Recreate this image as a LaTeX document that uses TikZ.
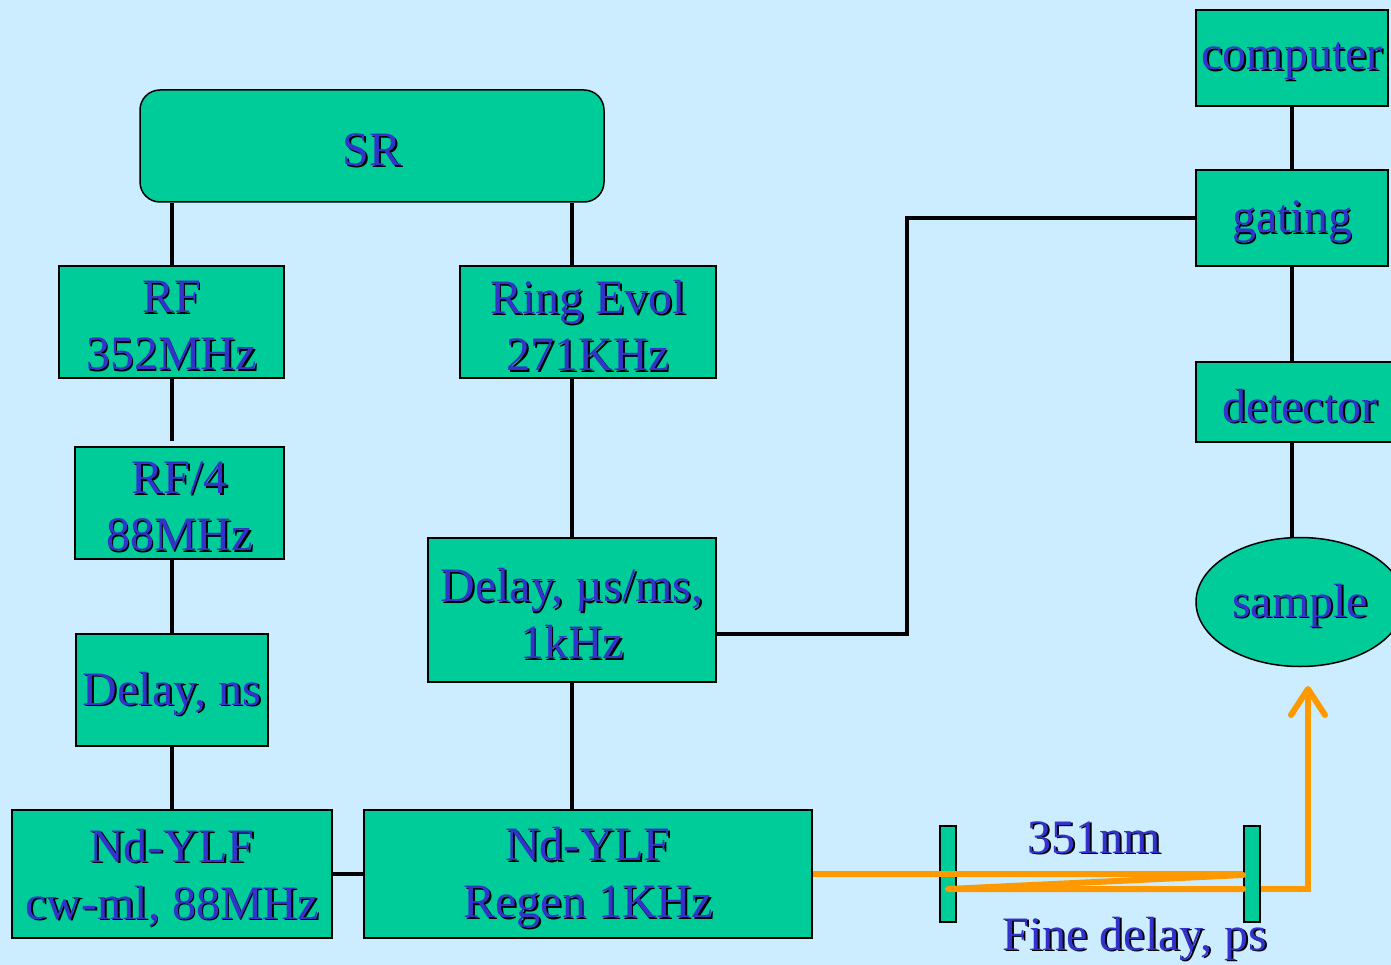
\documentclass[tikz,border=0pt]{standalone}
\usepackage{fontspec}
\setmainfont{Liberation Serif}
\usetikzlibrary{shapes.geometric,arrows.meta}
\definecolor{bg}{RGB}{204,236,255}
\definecolor{boxg}{RGB}{0,204,153}
\definecolor{txt}{RGB}{51,51,204}
\definecolor{beamc}{RGB}{255,153,0}
\newcommand\shl[1]{\leavevmode\rlap{\kern1.8pt\raisebox{-1.8pt}{\color{black}#1}}{\color{txt}#1}}
\newcommand\shd[1]{\raisebox{-4.5pt}[\height][\depth]{\shl{#1}}}
\begin{document}
\begin{tikzpicture}[x=1pt,y=-1pt,
  blk/.style={draw=black, line width=1.5pt, fill=boxg, inner sep=0pt, align=center, font=\fontsize{48}{57}\selectfont},
  wire/.style={line width=4pt, draw=black},
  beam/.style={line width=6pt, draw=beamc},
  lbl/.style={font=\fontsize{48}{57}\selectfont, inner sep=0pt, anchor=base}]
\clip (0,0) rectangle (1391,965);
\fill[bg] (0,0) rectangle (1391,965);
% left / middle blocks
\node[blk, rounded corners=20pt, minimum width=464pt, minimum height=112pt] (sr) at (372,146) {\shd{SR}};
\node[blk, minimum width=225pt, minimum height=112pt] (rf) at (171.5,322) {\shd{RF}\\\shd{352MHz}};
\node[blk, minimum width=256pt, minimum height=112pt] (ring) at (588,322) {\shd{Ring Evol}\\\shd{271KHz}};
\node[blk, minimum width=209pt, minimum height=112pt] (rf4) at (179.5,503) {\shd{RF/4}\\\shd{88MHz}};
\node[blk, minimum width=192pt, minimum height=112pt] (dns) at (172,690) {\shd{Delay, ns}};
\node[blk, minimum width=288pt, minimum height=144pt] (dus) at (572,610) {\shd{Delay, µs/ms,}\\\shd{1kHz}};
\node[blk, minimum width=320pt, minimum height=128pt] (cw) at (172,874) {\shd{Nd-YLF}\\\shd{cw-ml, 88MHz}};
\node[blk, minimum width=448pt, minimum height=128pt] (regen) at (588,874) {\shd{Nd-YLF}\\\shd{Regen 1KHz}};
% right column
\node[blk, minimum width=192pt, minimum height=96pt] (computer) at (1292,58) {\shd{computer}};
\node[blk, minimum width=192pt, minimum height=96pt] (gating) at (1292,218) {\shd{gating}};
\node[blk, minimum width=208pt, minimum height=80pt] (detector) at (1300,402) {\shd{detector}};
\node[blk, ellipse, minimum width=208pt, minimum height=129pt] (sample) at (1300,602) {\shd{sample}};
% connectors
\draw[wire] (rf.north |- sr.south) -- (rf.north);
\draw[wire] (sr.south -| dus.north) -- (ring.north -| dus.north);
\draw[wire, shorten >=5pt] (rf.south) -- (rf4.north -| rf.south);
\draw[wire] (rf4.south -| dns.north) -- (dns.north);
\draw[wire] (dns.south) -- (cw.north);
\draw[wire] (ring.south -| dus.north) -- (dus.north);
\draw[wire] (dus.south) -- (regen.north -| dus.south);
\draw[wire] (cw.east) -- (regen.west);
\coordinate (j1) at (907,634);
\draw[wire] (j1 -| dus.east) -- (j1) |- (gating.west);
\draw[wire] (computer.south) -- (gating.north);
\draw[wire] (gating.south) -- (detector.north -| gating.south);
\draw[wire] (detector.south -| gating.south) -- (sample.north -| gating.south);
% optics
\node[blk, minimum width=16pt, minimum height=96pt] (m1) at (948,874) {};
\node[blk, minimum width=16pt, minimum height=96pt] (m2) at (1252,874) {};
\draw[beam] (regen.east) -- (m2.west);
\draw[beam, line cap=round, line join=round] ([yshift=-1pt]m2.west) -- ([yshift=-15pt]m1.center) -- ([yshift=-15pt]m2.west);
\coordinate (tip) at (1308,686);
\draw[beam, -{Straight Barb[length=26pt, width=34pt, round]}] ([yshift=-15pt]m2.east) -| (tip);
\node[lbl] (l351) at (1094,853) {\shl{351nm}};
\node[lbl] (lfine) at (1135,950) {\shl{Fine delay, ps}};
\end{tikzpicture}
\end{document}
